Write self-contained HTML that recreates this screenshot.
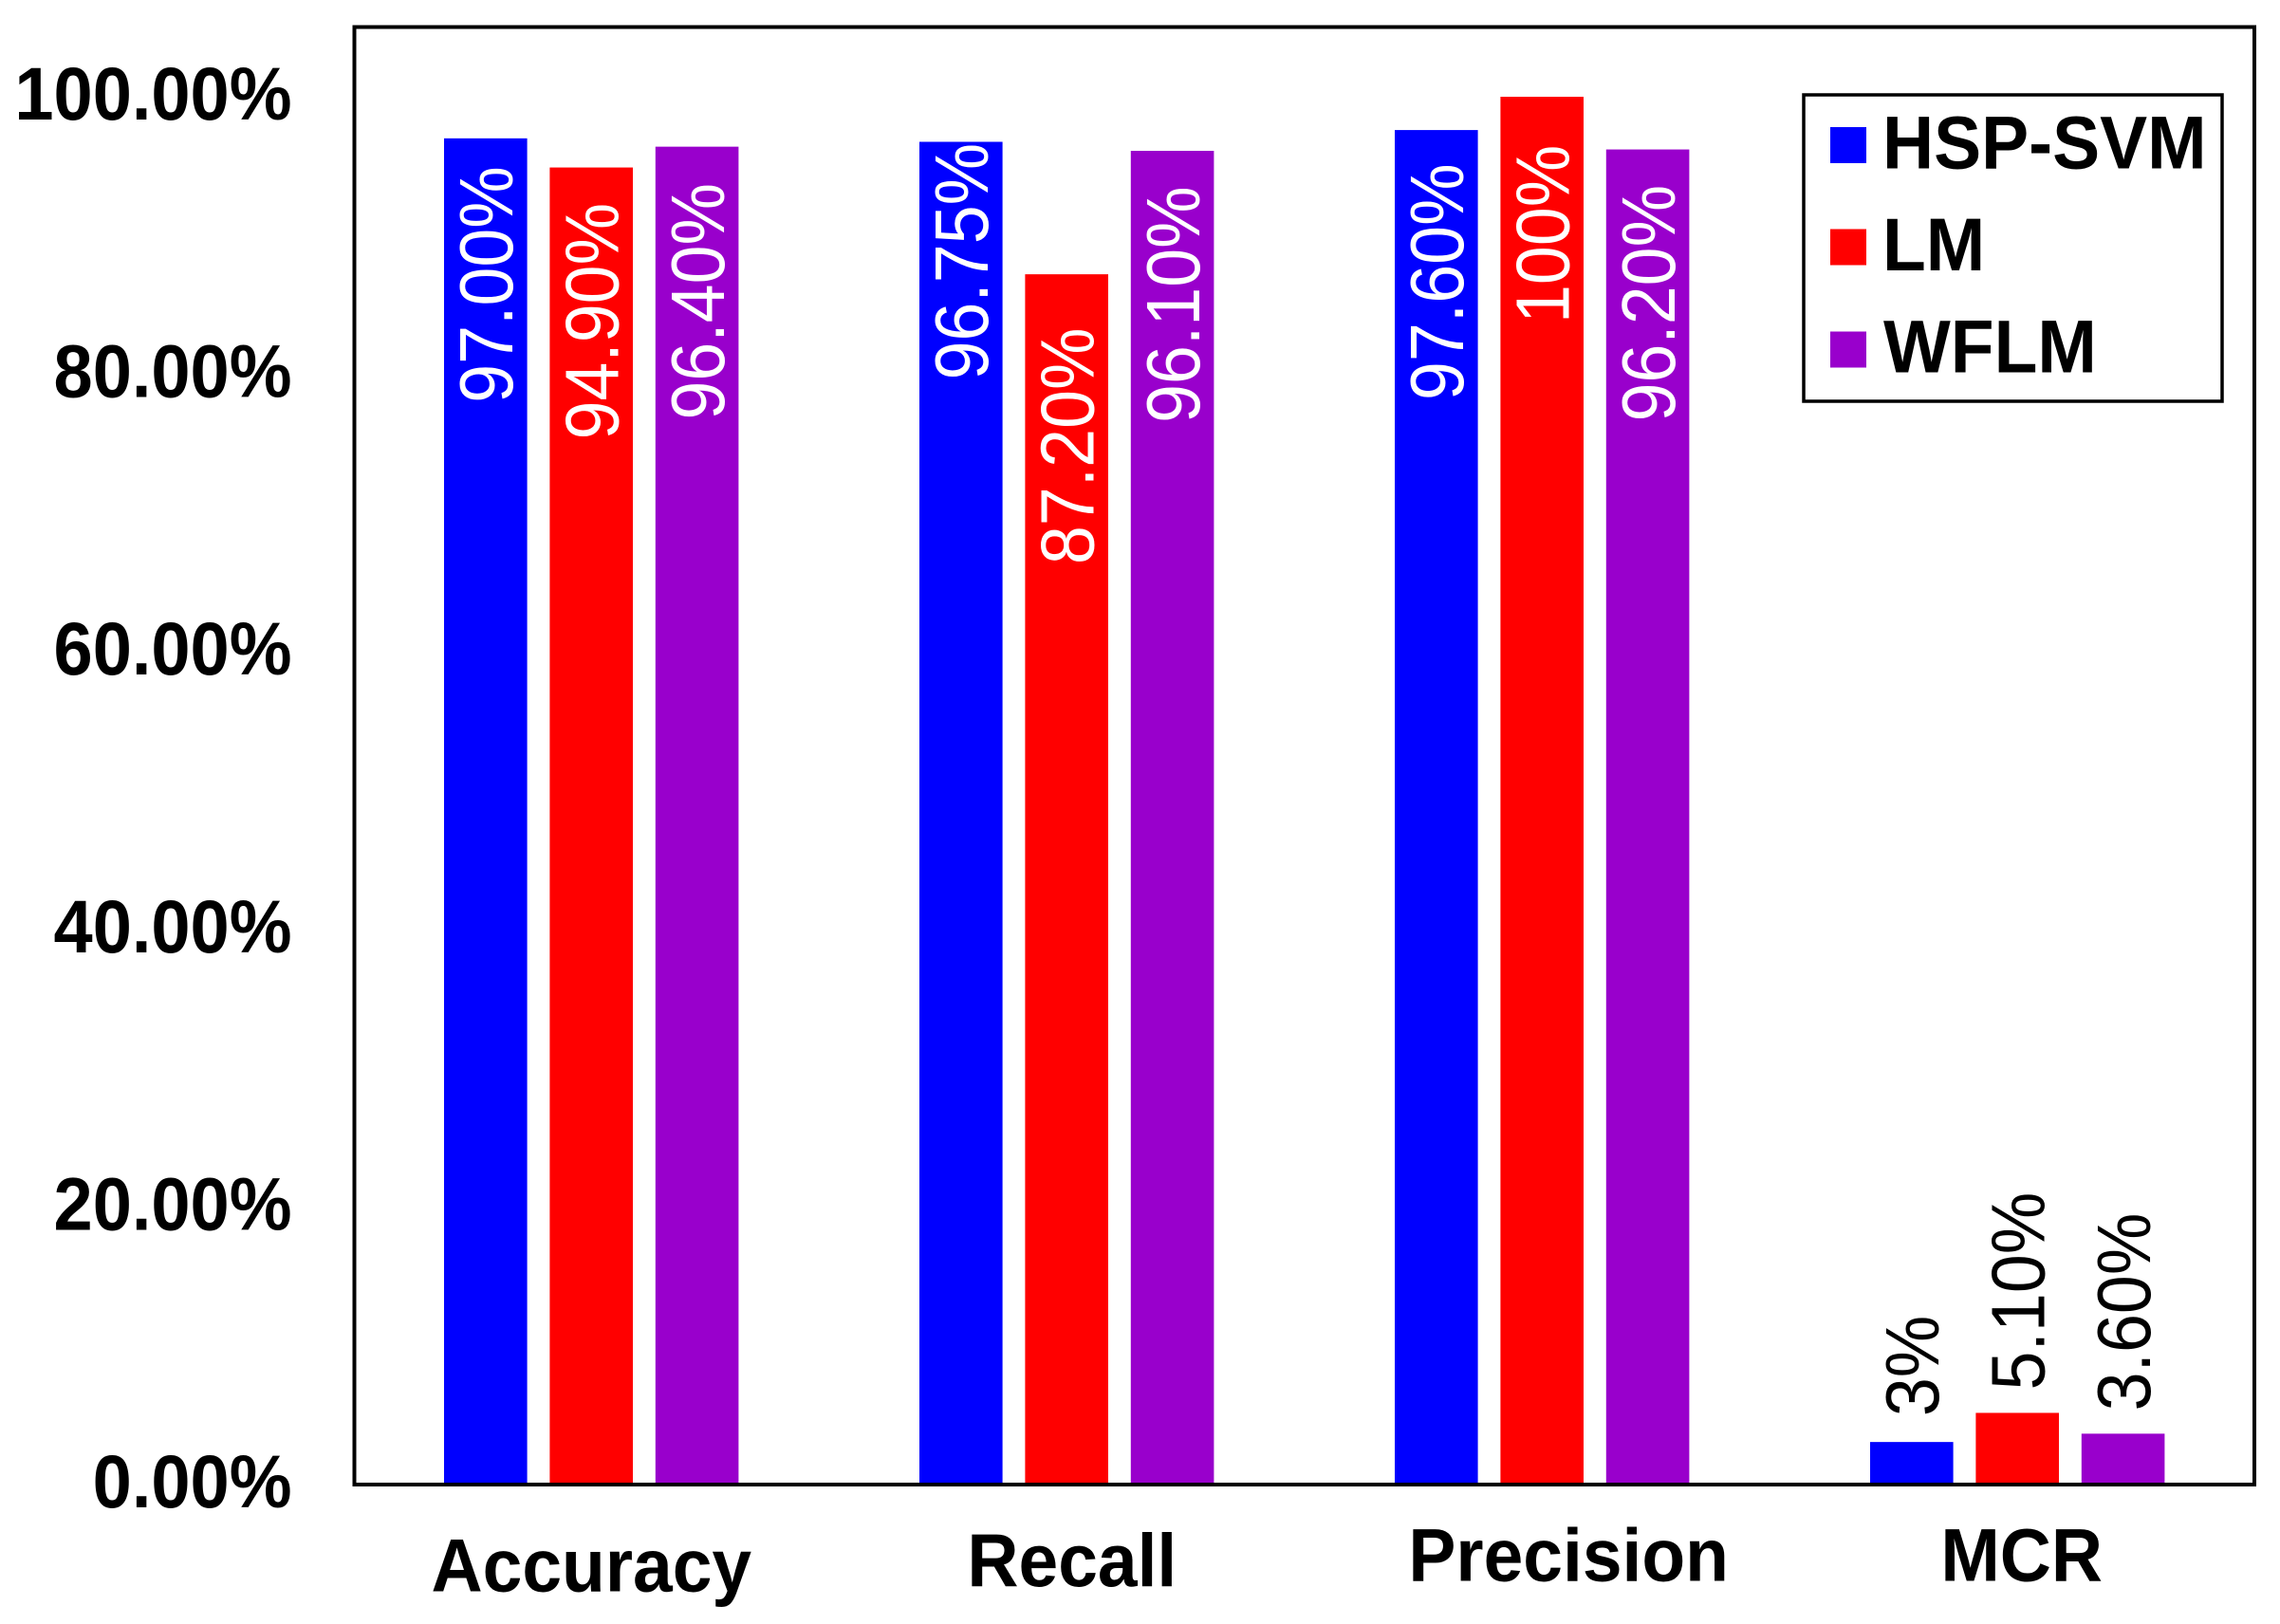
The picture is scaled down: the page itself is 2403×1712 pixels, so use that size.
<!DOCTYPE html>
<html lang="en">
<head>
<meta charset="utf-8">
<title>Classifier metrics bar chart</title>
<style>
  html, body { margin: 0; padding: 0; background: #fff; }
  svg { display: block; }
  text { font-family: "Liberation Sans", Arial, sans-serif; }
</style>
</head>
<body>
<svg id="chart" xmlns="http://www.w3.org/2000/svg" width="2403" height="1712" viewBox="0 0 2403 1712">
  <rect x="0" y="0" width="2403" height="1712" fill="#ffffff"/>
  <g id="bars"></g>
  <rect x="373.5" y="28.5" width="2002.5" height="1536.5" fill="none" stroke="#000" stroke-width="4"/>
  <g id="y-axis"></g>
  <g id="x-axis"></g>
  <g id="data-labels"></g>
  <g>
    <rect x="1901" y="100" width="441" height="323" fill="#fff" stroke="#000" stroke-width="3.5"/>
    <rect x="1929" y="134" width="38" height="38" fill="#0000ff"/>
    <text transform="translate(1984 177.7) scale(1 1.05)" font-size="75" font-weight="700" fill="#000">HSP-SVM</text>
    <rect x="1929" y="241.5" width="38" height="38" fill="#ff0000"/>
    <text transform="translate(1984 285) scale(1 1.05)" font-size="75" font-weight="700" fill="#000">LM</text>
    <rect x="1929" y="349.5" width="38" height="38" fill="#9900cc"/>
    <text transform="translate(1985 392.7) scale(1 1.05)" font-size="75" font-weight="700" fill="#000">WFLM</text>
  </g>
</svg>
<script>
// ---- chart data ----
var categories = ['Accuracy', 'Recall', 'Precision', 'MCR'];
var seriesNames = ['HSP-SVM', 'LM', 'WFLM'];
var hspSvmValues = [97, 96.75, 97.6, 3];
var lmValues = [94.9, 87.2, 100, 5.1];
var wflmValues = [96.4, 96.1, 96.2, 3.6];
var hspSvmLabels = ['97.00%', '96.75%', '97.60%', '3%'];
var lmLabels = ['94.90%', '87.20%', '100%', '5.10%'];
var wflmLabels = ['96.40%', '96.10%', '96.20%', '3.60%'];
var yTicks = [0, 20, 40, 60, 80, 100];
var yTickLabels = ['0.00%', '20.00%', '40.00%', '60.00%', '80.00%', '100.00%'];

// ---- layout ----
var seriesColors = ['#0000ff', '#ff0000', '#9900cc'];
var seriesValues = [hspSvmValues, lmValues, wflmValues];
var seriesLabels = [hspSvmLabels, lmLabels, wflmLabels];
var NS = 'http://www.w3.org/2000/svg';
var BASE_Y = 1564, UNIT_Y = 14.62;
var FIRST_X = 468, GROUP_STEP = 501, BAR_STEP = 111.4, BAR_W = 87.6;

function yScale(v) { return BASE_Y - v * UNIT_Y; }
function tickBaseline(v) { return 1589 - v * 14.63; }
function xScale(groupIndex, seriesIndex) { return FIRST_X + GROUP_STEP * groupIndex + BAR_STEP * seriesIndex; }
function groupCenter(groupIndex) { return xScale(groupIndex, 1) + BAR_W / 2; }

// The original labels were placed by hand, so placement relative to each bar is a style table.
var labelDrop = [[279, 251, 285, -27], [287, 306, 239, -24], [288, 287, 287, -24]];
var categoryShift = [0.1, 5.6, 28, 4.5];
var categoryDrop = [113.7, 108, 102.7, 102.7];

function make(tag, attrs, parent, content) {
  var el = document.createElementNS(NS, tag);
  for (var k in attrs) { el.setAttribute(k, attrs[k]); }
  if (content !== undefined) { el.textContent = content; }
  parent.appendChild(el);
  return el;
}

var barLayer = document.getElementById('bars');
var labelLayer = document.getElementById('data-labels');
var yAxis = document.getElementById('y-axis');
var xAxis = document.getElementById('x-axis');

seriesValues.forEach(function (values, s) {
  values.forEach(function (v, g) {
    var x = xScale(g, s);
    var top = yScale(v);
    var bar = make('rect', { x: x, y: top, width: BAR_W, height: BASE_Y - top, fill: seriesColors[s] }, barLayer);
    
    

    var isOutside = labelDrop[s][g] < 0;
    var label = make('text', {
      transform: 'translate(' + (x + 72) + ' ' + (top + labelDrop[s][g]) + ') rotate(-90) scale(0.92 1)',
      'font-size': 80,
      fill: isOutside ? '#000000' : '#ffffff'
    }, labelLayer, seriesLabels[s][g]);
    
    
  });
});

yTicks.forEach(function (t, i) {
  var tick = make('text', {
    transform: 'translate(307.5 ' + tickBaseline(t) + ') scale(1 1.07)',
    'font-size': 74,
    'font-weight': 700,
    'text-anchor': 'end',
    fill: '#000'
  }, yAxis, yTickLabels[i]);
  
  
});

categories.forEach(function (c, g) {
  var cat = make('text', {
    transform: 'translate(' + (groupCenter(g) + categoryShift[g]) + ' ' + (BASE_Y + categoryDrop[g]) + ') scale(1 1.05)',
    'font-size': 75,
    'font-weight': 700,
    'text-anchor': 'middle',
    fill: '#000'
  }, xAxis, c);
  
  
});
</script>
</body>
</html>
